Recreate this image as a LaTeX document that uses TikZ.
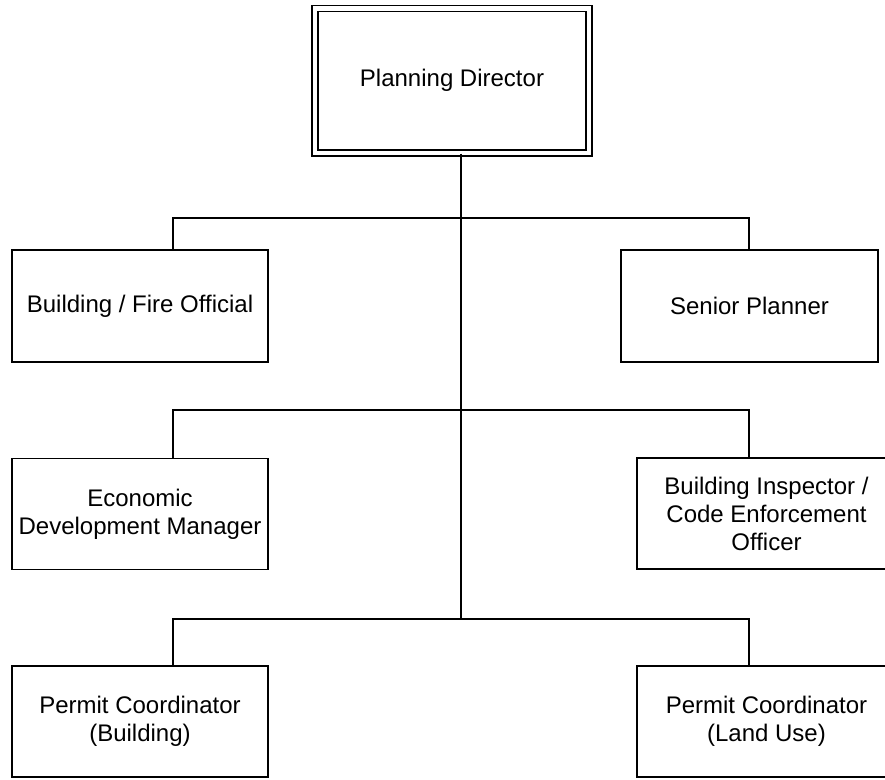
\documentclass[tikz,border=0pt]{standalone}
\usepackage{fontspec}
\setmainfont{Liberation Sans}
\begin{document}
\begin{tikzpicture}[x=1pt,y=-1pt,
  every node/.style={font=\fontsize{24}{28}\selectfont, align=center, inner sep=0pt},
  orgbox/.style={draw, line width=1.3pt, minimum height=112pt},
  topbox/.style={draw, line width=1.3pt, double, double distance=4.6pt, minimum width=274pt, minimum height=144.5pt},
  link/.style={line width=1.3pt}]
\useasboundingbox (0,0) rectangle (885,779);
\fill[white] (0,0) rectangle (885,779);
% nodes
\node[topbox] (pd) at (452,80.75) {Planning Director};
\node[orgbox, minimum width=256pt] (bf) at (140,306) {Building / Fire Official};
\node[orgbox, minimum width=257pt] (sp) at (749.5,306) {Senior Planner};
\node[orgbox, minimum width=256pt, minimum height=111pt] (edm) at (140,514) {Economic\\Development Manager};
\node[orgbox, minimum width=259pt, minimum height=111pt] (bi) at (766.5,513.5) {Building Inspector /\\Code Enforcement\\Officer};
\node[orgbox, minimum width=256pt, minimum height=111pt] (pcb) at (140,721.5) {Permit Coordinator\\(Building)};
\node[orgbox, minimum width=259pt, minimum height=111pt] (pcl) at (766.5,721.5) {Permit Coordinator\\(Land Use)};
% junction coordinates
\coordinate (t1) at (461,218);
\coordinate (t3) at (461,619);
\coordinate (l1) at (173,218);
\coordinate (r1) at (749,218);
\coordinate (l2) at (173,410);
\coordinate (r2) at (749,410);
\coordinate (l3) at (173,619);
\coordinate (r3) at (749,619);
% connectors
\draw[link] (pd.south -| t1) -- (t3);
\draw[link] (l1 |- bf.north) -- (l1) -- (r1) -- (r1 |- sp.north);
\draw[link] (l2 |- edm.north) -- (l2) -- (r2) -- (r2 |- bi.north);
\draw[link] (l3 |- pcb.north) -- (l3) -- (r3) -- (r3 |- pcl.north);
\end{tikzpicture}
\end{document}
